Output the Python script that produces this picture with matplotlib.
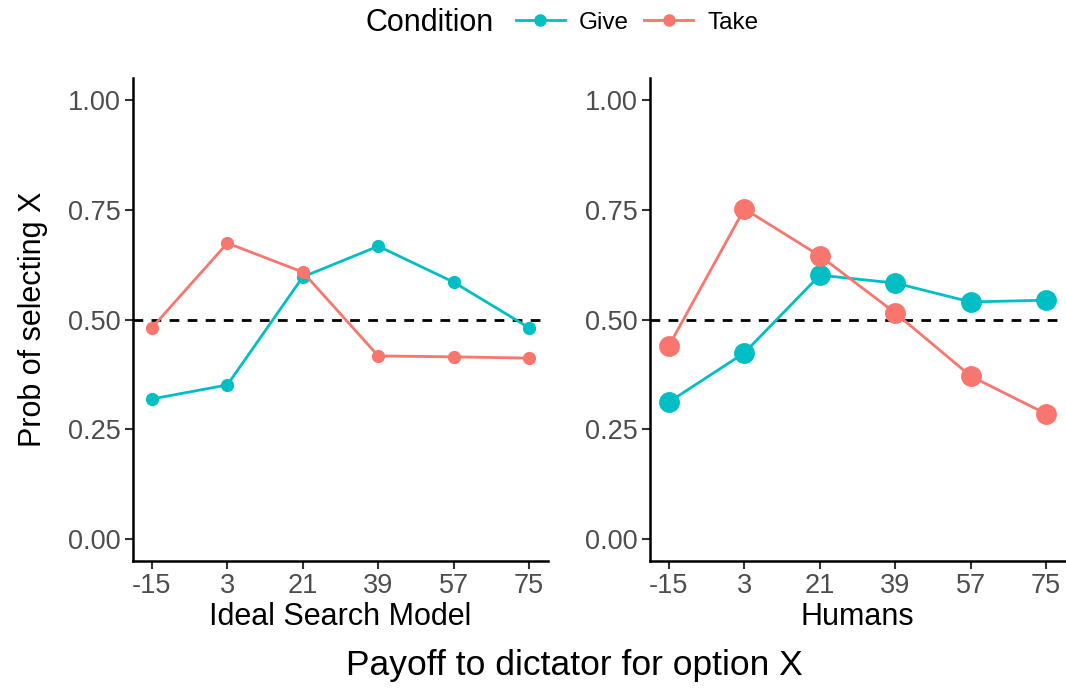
import matplotlib.pyplot as plt
import numpy as np

plt.rcParams['font.family'] = ['Liberation Sans', 'DejaVu Sans']

payoff = [-15, 3, 21, 39, 57, 75]

model_give = [0.319, 0.351, 0.597, 0.667, 0.585, 0.481]
model_take = [0.481, 0.674, 0.608, 0.417, 0.415, 0.412]

human_give = [0.312, 0.424, 0.601, 0.583, 0.540, 0.544]
human_take = [0.440, 0.752, 0.645, 0.515, 0.371, 0.285]
human_give_se = [0.010, 0.012, 0.013, 0.013, 0.012, 0.012]
human_take_se = [0.012, 0.011, 0.014, 0.016, 0.013, 0.011]

GIVE = '#00BFC4'
TAKE = '#F8766D'

fig = plt.figure(figsize=(10.66, 6.88), dpi=100)
ax1 = fig.add_axes([0.1248, 0.1846, 0.3893, 0.702])
ax2 = fig.add_axes([0.6098, 0.1846, 0.3893, 0.702])


def style(ax, xlabel):
    ax.set_xlim(-19.5, 79.5)
    ax.set_ylim(-0.05, 1.05)
    ax.set_xticks(payoff)
    ax.set_xticklabels([str(p) for p in payoff])
    ax.set_yticks([0, 0.25, 0.5, 0.75, 1.0])
    ax.set_yticklabels(['0.00', '0.25', '0.50', '0.75', '1.00'])
    for s in ['top', 'right']:
        ax.spines[s].set_visible(False)
    for s in ['left', 'bottom']:
        ax.spines[s].set_linewidth(1.8)
        ax.spines[s].set_color('black')
    ax.tick_params(axis='both', length=6, width=1.5, color='#333333',
                   labelcolor='#4D4D4D', labelsize=19.5, pad=3)
    ax.set_xlabel(xlabel, fontsize=22, labelpad=2)
    ax.axhline(0.5, color='black', lw=2, ls=(0, (3.5, 3)), zorder=1)


# model panel
ax1.plot(payoff, model_give, color=GIVE, lw=2, marker='o', ms=8.5, zorder=3)
ax1.plot(payoff, model_take, color=TAKE, lw=2, marker='o', ms=8.5, zorder=3)
style(ax1, 'Ideal Search Model')
ax1.set_ylabel('Prob of selecting X', fontsize=22, labelpad=14)

# human panel
ax2.errorbar(payoff, human_give, yerr=human_give_se, color=GIVE, lw=2,
             elinewidth=3, marker='o', ms=14, zorder=3)
ax2.errorbar(payoff, human_take, yerr=human_take_se, color=TAKE, lw=2,
             elinewidth=3, marker='o', ms=14, zorder=3)
style(ax2, 'Humans')

fig.text(0.539, 0.032, 'Payoff to dictator for option X', fontsize=25.5,
         ha='center', va='center')

# legend across the top
fig.text(0.3425, 0.967, 'Condition', fontsize=22, ha='left', va='center')
h_give = plt.Line2D([], [], color=GIVE, lw=2, marker='o', ms=8)
h_take = plt.Line2D([], [], color=TAKE, lw=2, marker='o', ms=8)
fig.legend([h_give, h_take], ['Give', 'Take'], loc='center left',
           bbox_to_anchor=(0.484, 0.967), ncol=2, frameon=False, fontsize=17.5,
           handlelength=2.0, handletextpad=0.6, columnspacing=0.63,
           borderaxespad=0, borderpad=0)

fig.savefig('out.png', dpi=100)
